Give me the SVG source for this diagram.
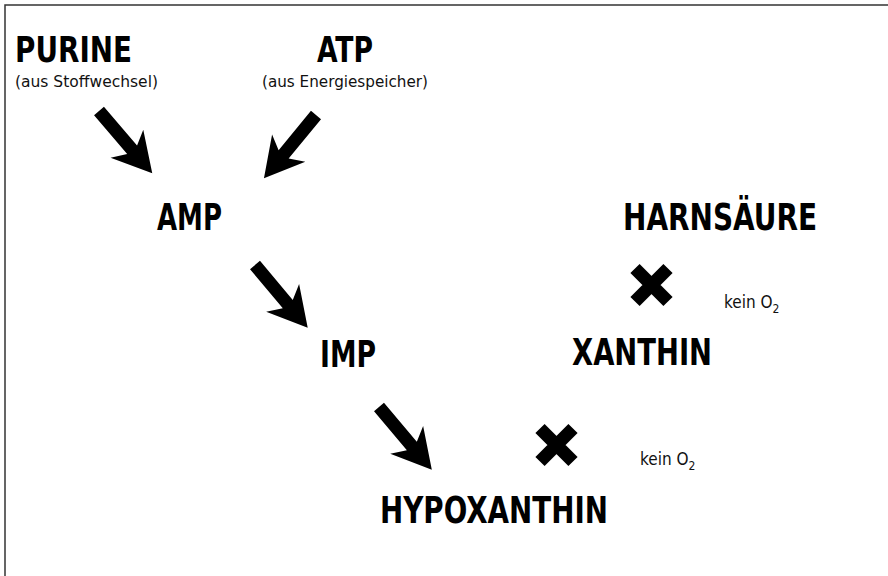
<svg xmlns="http://www.w3.org/2000/svg" xmlns:xlink="http://www.w3.org/1999/xlink" width="888" height="576" viewBox="0 0 888 576">
<style>
  .lbl { font-family: "Liberation Sans Narrow", "DejaVu Sans Condensed", "Liberation Sans", sans-serif; font-weight: bold; font-size: 38px; fill: #000; }
  .top { font-size: 36px; }
  .sub { font-family: "Liberation Sans Narrow", "DejaVu Sans Condensed", "Liberation Sans", sans-serif; font-size: 16.5px; fill: #111; }
  .small { font-family: "Liberation Sans Narrow", "DejaVu Sans Condensed", "Liberation Sans", sans-serif; font-size: 17px; fill: #111; }
  .idx { font-size: 12px; }
  .cross { stroke: #000; stroke-width: 13; stroke-linecap: butt; fill: none; }
</style>
<defs>
  <path id="arr" d="M0,-6.5 L51,-6.5 L43,-21.5 L82,0 L43,21.5 L51,6.5 L0,6.5 Z" fill="#000"/>
</defs>
<rect x="0" y="0" width="888" height="576" fill="#fff"/>
<rect x="5" y="5" width="900" height="600" fill="none" stroke="#333" stroke-width="1.5"/>

<g id="purine">
  <text class="lbl top" x="15" y="62" textLength="117" lengthAdjust="spacingAndGlyphs">PURINE</text>
  <text class="sub" x="15" y="87" textLength="143" lengthAdjust="spacingAndGlyphs">(aus Stoffwechsel)</text>
</g>
<g id="atp">
  <text class="lbl top" x="317" y="62" textLength="56" lengthAdjust="spacingAndGlyphs">ATP</text>
  <text class="sub" x="262" y="87" textLength="166" lengthAdjust="spacingAndGlyphs">(aus Energiespeicher)</text>
</g>
<g id="amp">
  <text class="lbl" x="157" y="230" textLength="65" lengthAdjust="spacingAndGlyphs">AMP</text>
</g>
<g id="imp">
  <text class="lbl" x="320" y="367" textLength="56" lengthAdjust="spacingAndGlyphs">IMP</text>
</g>
<g id="hypoxanthin">
  <text class="lbl" x="380" y="523" textLength="228" lengthAdjust="spacingAndGlyphs">HYPOXANTHIN</text>
</g>
<g id="xanthin">
  <text class="lbl" x="572" y="365" textLength="140" lengthAdjust="spacingAndGlyphs">XANTHIN</text>
</g>
<g id="harnsaeure">
  <text class="lbl" x="623" y="230" textLength="194" lengthAdjust="spacingAndGlyphs">HARNSÄURE</text>
</g>

<g id="connectors">
  <use xlink:href="#arr" transform="translate(99,111) rotate(49.5)"/>
  <use xlink:href="#arr" transform="translate(316,115) rotate(129.4)"/>
  <use xlink:href="#arr" transform="translate(255,265) rotate(50)"/>
  <use xlink:href="#arr" transform="translate(379,407) rotate(49.9)"/>
</g>

<g id="block-top">
  <path class="cross" d="M635,268.5 L668,301.5 M668,268.5 L635,301.5"/>
  <text class="small" x="724" y="308">kein O<tspan class="idx" dy="5">2</tspan></text>
</g>
<g id="block-bottom">
  <path class="cross" d="M540,428.5 L573,461.5 M573,428.5 L540,461.5"/>
  <text class="small" x="640" y="465">kein O<tspan class="idx" dy="5">2</tspan></text>
</g>
</svg>
